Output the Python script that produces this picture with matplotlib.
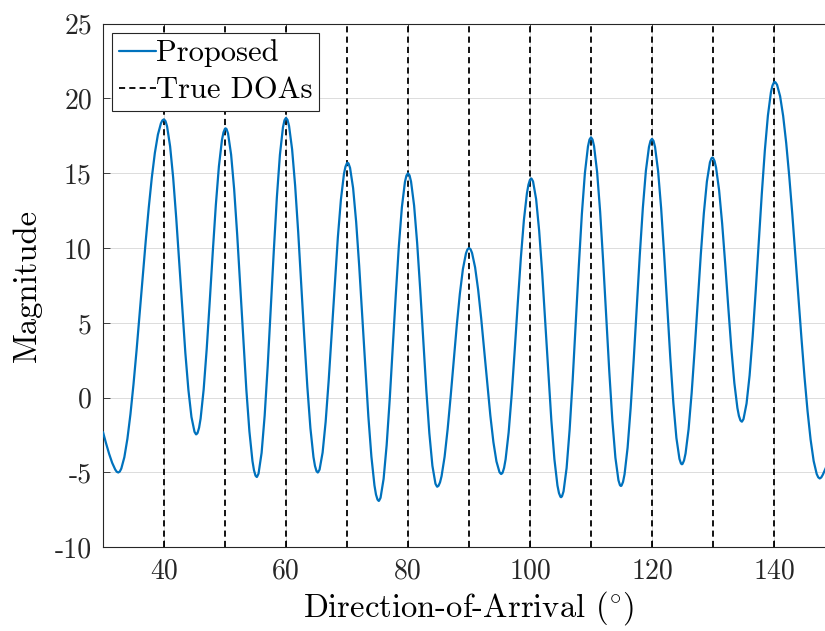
import numpy as np
import matplotlib
matplotlib.use("Agg")
import matplotlib.pyplot as plt

# angle grid (deg) and spectrum magnitude, 0.5 deg steps
doa_grid = np.arange(30, 150.5, 0.5)
magnitude = [
    -2.30, -3.05, -3.75, -4.35, -4.80, -5.00, -4.74, -3.98, -2.75, -1.10,
    0.90, 3.15, 5.57, 8.03, 10.45, 12.70, 14.70, 16.35, 17.58, 18.34,
    18.60, 18.14, 16.80, 14.71, 12.03, 9.01, 5.90, 2.99, 0.52, -1.29,
    -2.28, -2.36, -1.40, 0.54, 3.25, 6.44, 9.77, 12.89, 15.46, 17.22,
    17.98, 17.65, 16.25, 13.93, 10.89, 7.43, 3.86, 0.53, -2.25, -4.23,
    -5.21, -5.07, -3.69, -1.21, 2.11, 5.92, 9.81, 13.37, 16.22, 18.06,
    18.70, 18.16, 16.60, 14.16, 11.06, 7.57, 4.02, 0.72, -2.03, -3.96,
    -4.91, -4.81, -3.67, -1.61, 1.16, 4.36, 7.65, 10.71, 13.23, 14.95,
    15.68, 15.36, 14.01, 11.75, 8.80, 5.44, 1.98, -1.25, -3.94, -5.86,
    -6.81, -6.69, -5.43, -3.17, -0.14, 3.33, 6.88, 10.13, 12.74, 14.42,
    15.00, 14.44, 12.84, 10.34, 7.24, 3.84, 0.52, -2.38, -4.55, -5.75,
    -5.89, -5.25, -3.95, -2.10, 0.12, 2.51, 4.85, 6.94, 8.59, 9.64,
    10.00, 9.67, 8.71, 7.21, 5.29, 3.12, 0.89, -1.20, -2.97, -4.26,
    -4.98, -5.02, -4.12, -2.32, 0.21, 3.20, 6.35, 9.34, 11.87, 13.67,
    14.57, 14.45, 13.28, 11.16, 8.32, 5.02, 1.63, -1.52, -4.11, -5.87,
    -6.63, -6.26, -4.70, -2.12, 1.22, 4.99, 8.79, 12.26, 15.01, 16.78,
    17.40, 16.81, 15.09, 12.42, 9.06, 5.38, 1.73, -1.51, -4.01, -5.52,
    -5.88, -5.12, -3.34, -0.70, 2.52, 6.06, 9.55, 12.69, 15.17, 16.75,
    17.30, 16.75, 15.14, 12.65, 9.51, 6.08, 2.67, -0.35, -2.69, -4.09,
    -4.43, -3.73, -2.10, 0.31, 3.25, 6.44, 9.57, 12.33, 14.45, 15.73,
    16.03, 15.38, 13.86, 11.64, 8.95, 6.07, 3.32, 0.98, -0.69, -1.52,
    -1.43, -0.39, 1.49, 4.07, 7.13, 10.41, 13.63, 16.53, 18.85, 20.42,
    21.08, 20.91, 20.15, 18.83, 17.02, 14.79, 12.27, 9.54, 6.73, 3.98,
    1.39, -0.90, -2.80, -4.23, -5.10, -5.40, -5.15, -4.70, -4.00, -3.10,
    -2.00,
]

# extra samples read around each peak / trough (finer spacing there)
detail_deg = [
    32.25, 32.75, 39.75, 40.25, 45.25, 45.3, 45.75, 49.75, 50.1, 50.25,
    54.75, 55.2, 55.25, 59.75, 60.25, 64.75, 65.2, 65.25, 69.75, 70.1,
    70.25, 74.75, 75.2, 75.25, 79.75, 80.25, 84.75, 84.8, 85.25, 89.75,
    90.25, 95.25, 95.3, 95.75, 99.75, 100.2, 100.25, 104.75, 105.1, 105.25,
    109.75, 110.25, 114.75, 114.9, 115.25, 119.75, 120.25, 124.75, 124.9, 125.25,
    129.75, 129.9, 130.25, 134.25, 134.7, 134.75, 139.75, 140.1, 140.25, 147.25,
    147.75,
]
detail_mag = [
    -4.95, -4.94, 18.54, 18.48, -2.45, -2.45, -2.01, 17.73, 18.00, 17.95,
    -4.85, -5.30, -5.29, 18.54, 18.56, -4.56, -5.00, -4.99, 15.44, 15.70,
    15.65, -6.47, -6.90, -6.89, 14.85, 14.86, -5.94, -5.95, -5.66, 9.91,
    9.92, -5.10, -5.10, -4.69, 14.24, 14.65, 14.64, -6.38, -6.65, -6.59,
    17.25, 17.25, -5.85, -5.90, -5.63, 17.16, 17.16, -4.40, -4.45, -4.20,
    16.00, 16.05, 15.82, -1.22, -1.60, -1.60, 20.86, 21.10, 21.07, -5.32,
    -5.33,
]

true_doas = [40, 50, 60, 70, 80, 90, 100, 110, 120, 130, 140]

x_ticks = [40, 60, 80, 100, 120, 140]
y_ticks = [-10, -5, 0, 5, 10, 15, 20, 25]

# merge the two sample sets in angle order
ang = np.concatenate([doa_grid, detail_deg])
mag = np.concatenate([magnitude, detail_mag])
order = np.argsort(ang, kind='stable')
ang, mag = ang[order], mag[order]

plt.rcParams['font.family'] = 'serif'
plt.rcParams['font.serif'] = ['cmr10']
plt.rcParams['mathtext.fontset'] = 'cm'
plt.rcParams['axes.unicode_minus'] = False

fig = plt.figure(figsize=(8.25, 6.31), dpi=100)
# axes runs past the right edge of the canvas (the original is cropped)
ax = fig.add_axes([103 / 825, (631 - 547.3) / 631, 732 / 825, (547.3 - 23.6) / 631])

ax.plot(ang, mag, color='#0072BD', lw=1.6, label='Proposed',
        solid_joinstyle='round', solid_capstyle='round', zorder=3)
for i, d in enumerate(true_doas):
    ax.axvline(d, color='black', lw=1.3, ls=(0, (3.4, 2.3)),
               label='True DOAs' if i == 0 else None, zorder=2)

ax.set_xlim(30, 150)
ax.set_ylim(-10, 25)
ax.set_xticks(x_ticks)
ax.set_xticklabels([str(v) for v in x_ticks])
ax.set_yticks(y_ticks)
ax.set_yticklabels([str(v) for v in y_ticks])

ax.grid(True, color='#dcdcdc', lw=0.7)
ax.set_axisbelow(True)
ax.tick_params(direction='in', length=5, width=0.6, colors='#262626',
               labelsize=20, top=True, right=True, pad=8)
for s in ax.spines.values():
    s.set_color('#262626')
    s.set_linewidth(0.8)

ax.set_xlabel(r'Direction-of-Arrival (${}^{\circ}$)', fontsize=23.5, labelpad=3)
ax.set_ylabel('Magnitude', fontsize=23.5, labelpad=9)

leg = ax.legend(loc='upper left', fontsize=22, fancybox=False, framealpha=1,
                edgecolor='#262626', borderaxespad=0.3, handlelength=1.2,
                handletextpad=0.0, borderpad=0.22, labelspacing=0.32)
leg.get_frame().set_linewidth(0.8)

fig.savefig('out.png', dpi=100)
